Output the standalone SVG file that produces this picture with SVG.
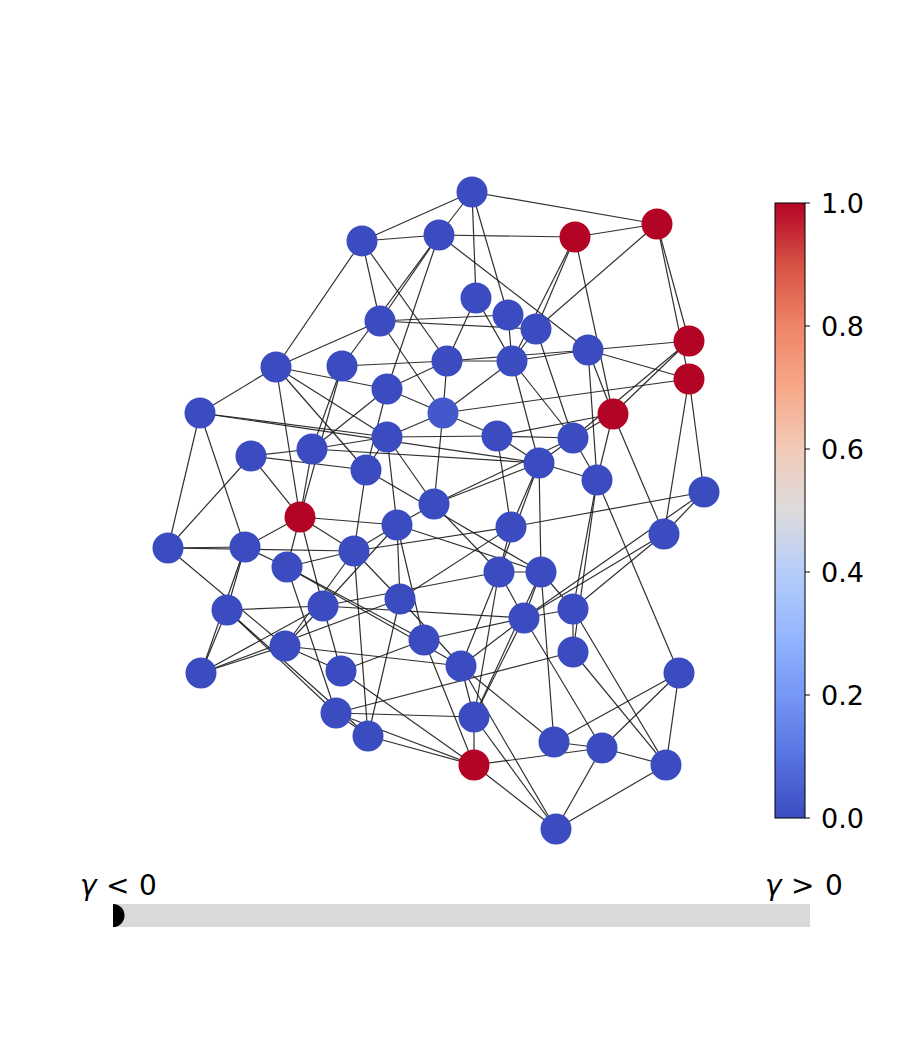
<svg xmlns="http://www.w3.org/2000/svg" width="900" height="1050" viewBox="0 0 900 1050">
<defs>
<style>
.e line{stroke:#1a1a1a;stroke-width:1.2;stroke-opacity:0.9}
.n{fill:#3b4cc0}
.r{fill:#b40426}
.s{fill:#4358cb}
.t{font-family:"DejaVu Sans",sans-serif;font-size:27px;fill:#000}
.g{font-family:"DejaVu Sans",sans-serif;font-size:28px;fill:#000}
</style>
<linearGradient id="cw" x1="0" y1="1" x2="0" y2="0">
<stop offset="0" stop-color="#3b4cc0"/>
<stop offset="0.1" stop-color="#5673e0"/>
<stop offset="0.2" stop-color="#7597f6"/>
<stop offset="0.3" stop-color="#96b7ff"/>
<stop offset="0.4" stop-color="#b5cdfa"/>
<stop offset="0.5" stop-color="#dddcdc"/>
<stop offset="0.6" stop-color="#f2cbb7"/>
<stop offset="0.7" stop-color="#f7a889"/>
<stop offset="0.8" stop-color="#ee8468"/>
<stop offset="0.9" stop-color="#d65244"/>
<stop offset="1" stop-color="#b40426"/>
</linearGradient>
</defs>
<rect width="900" height="1050" fill="#fff"/>
<g id="edges" class="e">
<line x1="472" y1="192" x2="362" y2="241"/>
<line x1="472" y1="192" x2="439" y2="235"/>
<line x1="472" y1="192" x2="657" y2="224"/>
<line x1="472" y1="192" x2="476" y2="298"/>
<line x1="472" y1="192" x2="508" y2="315"/>
<line x1="362" y1="241" x2="439" y2="235"/>
<line x1="362" y1="241" x2="276" y2="367"/>
<line x1="362" y1="241" x2="380" y2="321"/>
<line x1="362" y1="241" x2="447" y2="361"/>
<line x1="439" y1="235" x2="575" y2="237"/>
<line x1="439" y1="235" x2="588" y2="350"/>
<line x1="439" y1="235" x2="380" y2="321"/>
<line x1="439" y1="235" x2="342" y2="366"/>
<line x1="439" y1="235" x2="387" y2="389"/>
<line x1="575" y1="237" x2="657" y2="224"/>
<line x1="575" y1="237" x2="512" y2="361"/>
<line x1="575" y1="237" x2="536" y2="329"/>
<line x1="575" y1="237" x2="613" y2="414"/>
<line x1="657" y1="224" x2="536" y2="329"/>
<line x1="657" y1="224" x2="689" y2="341"/>
<line x1="657" y1="224" x2="689" y2="379"/>
<line x1="476" y1="298" x2="447" y2="361"/>
<line x1="476" y1="298" x2="512" y2="361"/>
<line x1="508" y1="315" x2="380" y2="321"/>
<line x1="536" y1="329" x2="380" y2="321"/>
<line x1="508" y1="315" x2="512" y2="361"/>
<line x1="536" y1="329" x2="512" y2="361"/>
<line x1="536" y1="329" x2="573" y2="438"/>
<line x1="380" y1="321" x2="276" y2="367"/>
<line x1="380" y1="321" x2="443" y2="413"/>
<line x1="588" y1="350" x2="689" y2="341"/>
<line x1="588" y1="350" x2="689" y2="379"/>
<line x1="588" y1="350" x2="447" y2="361"/>
<line x1="588" y1="350" x2="512" y2="361"/>
<line x1="588" y1="350" x2="613" y2="414"/>
<line x1="588" y1="350" x2="597" y2="480"/>
<line x1="447" y1="361" x2="512" y2="361"/>
<line x1="342" y1="366" x2="447" y2="361"/>
<line x1="447" y1="361" x2="387" y2="389"/>
<line x1="447" y1="361" x2="443" y2="413"/>
<line x1="689" y1="341" x2="613" y2="414"/>
<line x1="689" y1="341" x2="573" y2="438"/>
<line x1="613" y1="414" x2="573" y2="438"/>
<line x1="689" y1="379" x2="443" y2="413"/>
<line x1="689" y1="379" x2="664" y2="534"/>
<line x1="689" y1="379" x2="704" y2="492"/>
<line x1="613" y1="414" x2="497" y2="436"/>
<line x1="613" y1="414" x2="597" y2="480"/>
<line x1="613" y1="414" x2="664" y2="534"/>
<line x1="276" y1="367" x2="200" y2="413"/>
<line x1="276" y1="367" x2="387" y2="389"/>
<line x1="276" y1="367" x2="300" y2="517"/>
<line x1="276" y1="367" x2="366" y2="470"/>
<line x1="276" y1="367" x2="387" y2="437"/>
<line x1="342" y1="366" x2="312" y2="449"/>
<line x1="342" y1="366" x2="300" y2="517"/>
<line x1="387" y1="389" x2="312" y2="449"/>
<line x1="387" y1="389" x2="366" y2="470"/>
<line x1="387" y1="389" x2="443" y2="413"/>
<line x1="443" y1="413" x2="387" y2="437"/>
<line x1="443" y1="413" x2="434" y2="504"/>
<line x1="443" y1="413" x2="497" y2="436"/>
<line x1="512" y1="361" x2="443" y2="413"/>
<line x1="512" y1="361" x2="539" y2="463"/>
<line x1="512" y1="361" x2="573" y2="438"/>
<line x1="497" y1="436" x2="387" y2="437"/>
<line x1="497" y1="436" x2="573" y2="438"/>
<line x1="497" y1="436" x2="539" y2="463"/>
<line x1="497" y1="436" x2="511" y2="527"/>
<line x1="200" y1="413" x2="387" y2="437"/>
<line x1="200" y1="413" x2="539" y2="463"/>
<line x1="200" y1="413" x2="245" y2="547"/>
<line x1="200" y1="413" x2="168" y2="548"/>
<line x1="251" y1="456" x2="168" y2="548"/>
<line x1="251" y1="456" x2="312" y2="449"/>
<line x1="251" y1="456" x2="300" y2="517"/>
<line x1="251" y1="456" x2="366" y2="470"/>
<line x1="387" y1="437" x2="366" y2="470"/>
<line x1="387" y1="437" x2="434" y2="504"/>
<line x1="387" y1="437" x2="397" y2="525"/>
<line x1="312" y1="449" x2="300" y2="517"/>
<line x1="312" y1="449" x2="387" y2="437"/>
<line x1="312" y1="449" x2="539" y2="463"/>
<line x1="300" y1="517" x2="397" y2="525"/>
<line x1="300" y1="517" x2="245" y2="547"/>
<line x1="300" y1="517" x2="287" y2="567"/>
<line x1="300" y1="517" x2="354" y2="551"/>
<line x1="300" y1="517" x2="323" y2="606"/>
<line x1="168" y1="548" x2="245" y2="547"/>
<line x1="168" y1="548" x2="354" y2="551"/>
<line x1="168" y1="548" x2="285" y2="646"/>
<line x1="245" y1="547" x2="227" y2="610"/>
<line x1="245" y1="547" x2="201" y2="673"/>
<line x1="245" y1="547" x2="287" y2="567"/>
<line x1="227" y1="610" x2="201" y2="673"/>
<line x1="227" y1="610" x2="336" y2="713"/>
<line x1="227" y1="610" x2="368" y2="736"/>
<line x1="227" y1="610" x2="323" y2="606"/>
<line x1="201" y1="673" x2="285" y2="646"/>
<line x1="201" y1="673" x2="323" y2="606"/>
<line x1="201" y1="673" x2="400" y2="599"/>
<line x1="285" y1="646" x2="341" y2="671"/>
<line x1="285" y1="646" x2="461" y2="666"/>
<line x1="285" y1="646" x2="323" y2="606"/>
<line x1="285" y1="646" x2="354" y2="551"/>
<line x1="287" y1="567" x2="354" y2="551"/>
<line x1="287" y1="567" x2="424" y2="640"/>
<line x1="287" y1="567" x2="461" y2="666"/>
<line x1="287" y1="567" x2="336" y2="713"/>
<line x1="354" y1="551" x2="368" y2="736"/>
<line x1="354" y1="551" x2="400" y2="599"/>
<line x1="354" y1="551" x2="397" y2="525"/>
<line x1="354" y1="551" x2="366" y2="470"/>
<line x1="397" y1="525" x2="434" y2="504"/>
<line x1="397" y1="525" x2="541" y2="572"/>
<line x1="397" y1="525" x2="400" y2="599"/>
<line x1="397" y1="525" x2="424" y2="640"/>
<line x1="323" y1="606" x2="397" y2="525"/>
<line x1="434" y1="504" x2="539" y2="463"/>
<line x1="434" y1="504" x2="573" y2="438"/>
<line x1="434" y1="504" x2="499" y2="572"/>
<line x1="539" y1="463" x2="573" y2="438"/>
<line x1="539" y1="463" x2="597" y2="480"/>
<line x1="539" y1="463" x2="511" y2="527"/>
<line x1="539" y1="463" x2="541" y2="572"/>
<line x1="539" y1="463" x2="499" y2="572"/>
<line x1="573" y1="438" x2="597" y2="480"/>
<line x1="597" y1="480" x2="573" y2="609"/>
<line x1="597" y1="480" x2="573" y2="652"/>
<line x1="597" y1="480" x2="679" y2="673"/>
<line x1="511" y1="527" x2="704" y2="492"/>
<line x1="511" y1="527" x2="499" y2="572"/>
<line x1="511" y1="527" x2="354" y2="551"/>
<line x1="664" y1="534" x2="704" y2="492"/>
<line x1="664" y1="534" x2="524" y2="618"/>
<line x1="664" y1="534" x2="573" y2="609"/>
<line x1="704" y1="492" x2="524" y2="618"/>
<line x1="499" y1="572" x2="541" y2="572"/>
<line x1="499" y1="572" x2="524" y2="618"/>
<line x1="499" y1="572" x2="461" y2="666"/>
<line x1="499" y1="572" x2="474" y2="717"/>
<line x1="499" y1="572" x2="323" y2="606"/>
<line x1="541" y1="572" x2="524" y2="618"/>
<line x1="541" y1="572" x2="573" y2="609"/>
<line x1="541" y1="572" x2="554" y2="742"/>
<line x1="541" y1="572" x2="474" y2="717"/>
<line x1="366" y1="470" x2="541" y2="572"/>
<line x1="524" y1="618" x2="573" y2="609"/>
<line x1="524" y1="618" x2="602" y2="748"/>
<line x1="524" y1="618" x2="474" y2="717"/>
<line x1="524" y1="618" x2="461" y2="666"/>
<line x1="323" y1="606" x2="524" y2="618"/>
<line x1="424" y1="640" x2="524" y2="618"/>
<line x1="573" y1="609" x2="573" y2="652"/>
<line x1="573" y1="609" x2="666" y2="765"/>
<line x1="573" y1="652" x2="666" y2="765"/>
<line x1="573" y1="652" x2="336" y2="713"/>
<line x1="400" y1="599" x2="461" y2="666"/>
<line x1="400" y1="599" x2="368" y2="736"/>
<line x1="400" y1="599" x2="511" y2="527"/>
<line x1="424" y1="640" x2="341" y2="671"/>
<line x1="424" y1="640" x2="474" y2="765"/>
<line x1="341" y1="671" x2="323" y2="606"/>
<line x1="341" y1="671" x2="474" y2="765"/>
<line x1="336" y1="713" x2="474" y2="717"/>
<line x1="336" y1="713" x2="474" y2="765"/>
<line x1="336" y1="713" x2="368" y2="736"/>
<line x1="368" y1="736" x2="474" y2="765"/>
<line x1="461" y1="666" x2="474" y2="717"/>
<line x1="461" y1="666" x2="554" y2="742"/>
<line x1="461" y1="666" x2="556" y2="829"/>
<line x1="474" y1="717" x2="474" y2="765"/>
<line x1="474" y1="717" x2="556" y2="829"/>
<line x1="474" y1="765" x2="602" y2="748"/>
<line x1="474" y1="765" x2="556" y2="829"/>
<line x1="554" y1="742" x2="602" y2="748"/>
<line x1="554" y1="742" x2="679" y2="673"/>
<line x1="602" y1="748" x2="679" y2="673"/>
<line x1="602" y1="748" x2="666" y2="765"/>
<line x1="602" y1="748" x2="556" y2="829"/>
<line x1="666" y1="765" x2="679" y2="673"/>
<line x1="666" y1="765" x2="556" y2="829"/>
</g>
<g id="nodes">
<circle id="A" class="n" cx="472" cy="192" r="15.5"/>
<circle id="B" class="n" cx="362" cy="241" r="15.5"/>
<circle id="C" class="n" cx="439" cy="235" r="15.5"/>
<circle id="D" class="r" cx="575" cy="237" r="15.5"/>
<circle id="E" class="r" cx="657" cy="224" r="15.5"/>
<circle id="F" class="n" cx="476" cy="298" r="15.5"/>
<circle id="G" class="n" cx="508" cy="315" r="15.5"/>
<circle id="H" class="n" cx="536" cy="329" r="15.5"/>
<circle id="I" class="n" cx="380" cy="321" r="15.5"/>
<circle id="J" class="r" cx="689" cy="341" r="15.5"/>
<circle id="K" class="n" cx="588" cy="350" r="15.5"/>
<circle id="L" class="n" cx="276" cy="367" r="15.5"/>
<circle id="M" class="n" cx="342" cy="366" r="15.5"/>
<circle id="N" class="n" cx="447" cy="361" r="15.5"/>
<circle id="O" class="n" cx="512" cy="361" r="15.5"/>
<circle id="P" class="n" cx="387" cy="389" r="15.5"/>
<circle id="Q" class="r" cx="689" cy="379" r="15.5"/>
<circle id="R" class="n" cx="200" cy="413" r="15.5"/>
<circle id="S" class="s" cx="443" cy="413" r="15.5"/>
<circle id="T" class="r" cx="613" cy="414" r="15.5"/>
<circle id="U" class="n" cx="497" cy="436" r="15.5"/>
<circle id="V" class="n" cx="573" cy="438" r="15.5"/>
<circle id="W" class="n" cx="387" cy="437" r="15.5"/>
<circle id="X" class="n" cx="312" cy="449" r="15.5"/>
<circle id="Y" class="n" cx="251" cy="456" r="15.5"/>
<circle id="Z" class="n" cx="539" cy="463" r="15.5"/>
<circle id="AA" class="n" cx="366" cy="470" r="15.5"/>
<circle id="AB" class="n" cx="597" cy="480" r="15.5"/>
<circle id="AC" class="n" cx="704" cy="492" r="15.5"/>
<circle id="AD" class="n" cx="434" cy="504" r="15.5"/>
<circle id="AE" class="r" cx="300" cy="517" r="15.5"/>
<circle id="AF" class="n" cx="397" cy="525" r="15.5"/>
<circle id="AG" class="n" cx="511" cy="527" r="15.5"/>
<circle id="AH" class="n" cx="168" cy="548" r="15.5"/>
<circle id="AI" class="n" cx="245" cy="547" r="15.5"/>
<circle id="AJ" class="n" cx="354" cy="551" r="15.5"/>
<circle id="AK" class="n" cx="664" cy="534" r="15.5"/>
<circle id="AL" class="n" cx="287" cy="567" r="15.5"/>
<circle id="AM" class="n" cx="499" cy="572" r="15.5"/>
<circle id="AN" class="n" cx="541" cy="572" r="15.5"/>
<circle id="AO" class="n" cx="400" cy="599" r="15.5"/>
<circle id="AP" class="n" cx="323" cy="606" r="15.5"/>
<circle id="AQ" class="n" cx="227" cy="610" r="15.5"/>
<circle id="AR" class="n" cx="573" cy="609" r="15.5"/>
<circle id="AS" class="n" cx="524" cy="618" r="15.5"/>
<circle id="AT" class="n" cx="424" cy="640" r="15.5"/>
<circle id="AU" class="n" cx="285" cy="646" r="15.5"/>
<circle id="AV" class="n" cx="573" cy="652" r="15.5"/>
<circle id="AW" class="n" cx="201" cy="673" r="15.5"/>
<circle id="AX" class="n" cx="341" cy="671" r="15.5"/>
<circle id="AY" class="n" cx="461" cy="666" r="15.5"/>
<circle id="AZ" class="n" cx="679" cy="673" r="15.5"/>
<circle id="BA" class="n" cx="336" cy="713" r="15.5"/>
<circle id="BB" class="n" cx="474" cy="717" r="15.5"/>
<circle id="BC" class="n" cx="368" cy="736" r="15.5"/>
<circle id="BD" class="n" cx="554" cy="742" r="15.5"/>
<circle id="BE" class="n" cx="602" cy="748" r="15.5"/>
<circle id="BF" class="r" cx="474" cy="765" r="15.5"/>
<circle id="BG" class="n" cx="666" cy="765" r="15.5"/>
<circle id="BH" class="n" cx="556" cy="829" r="15.5"/>
</g>
<g id="colorbar">
<rect x="775" y="203" width="30" height="615" fill="url(#cw)" stroke="#000" stroke-width="1"/>
<g stroke="#000" stroke-width="1">
<line x1="805" y1="203" x2="810" y2="203"/>
<line x1="805" y1="326" x2="810" y2="326"/>
<line x1="805" y1="449" x2="810" y2="449"/>
<line x1="805" y1="572" x2="810" y2="572"/>
<line x1="805" y1="695" x2="810" y2="695"/>
<line x1="805" y1="818" x2="810" y2="818"/>
</g>
<text class="t" x="821" y="213">1.0</text>
<text class="t" x="821" y="336">0.8</text>
<text class="t" x="821" y="459">0.6</text>
<text class="t" x="821" y="582">0.4</text>
<text class="t" x="821" y="705">0.2</text>
<text class="t" x="821" y="828">0.0</text>
</g>
<g id="slider">
<rect x="113" y="904" width="697" height="23" fill="#d9d9d9"/>
<path d="M113,904 A11.5,11.5 0 0 1 113,927 Z" fill="#000"/>
<text class="g" y="895"><tspan x="80" font-style="italic">γ</tspan><tspan x="106">&lt;</tspan><tspan x="139">0</tspan></text>
<text class="g" y="895"><tspan x="765" font-style="italic">γ</tspan><tspan x="791">&gt;</tspan><tspan x="825">0</tspan></text>
</g>
</svg>
